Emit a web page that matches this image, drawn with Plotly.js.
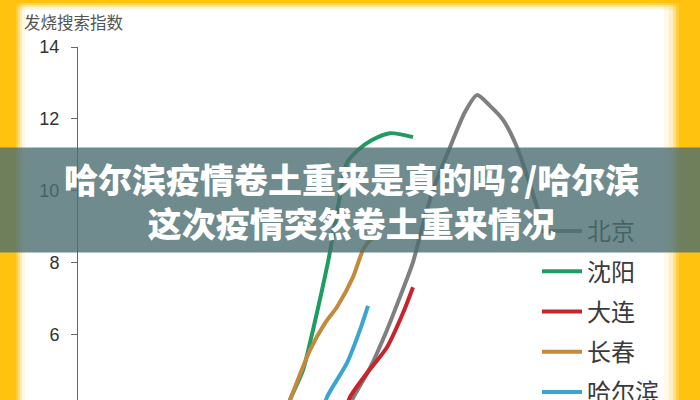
<!DOCTYPE html>
<html><head><meta charset="utf-8">
<script src="https://cdn.plot.ly/plotly-3.0.1.min.js"></script>
<style>html,body{margin:0;padding:0;overflow:hidden;background:#fff;width:700px;height:400px}#chart{width:700px;height:410px}</style>
</head><body><div id="chart"></div><script>
// data (x: day index, y: 发烧搜索指数)
const cities = ['北京','沈阳','大连','长春','哈尔滨'];
const lineColors = ['#7f7f7f','#1f9c62','#c8242b','#c28a3c','#3aa5cf'];
const beijingX = [26.9,27.4,29.2,30.9,32.2,33.5,34.3,35.5,37.2,38.7,39.9,41.2,42.5,43.9,45.2,46.0];
const beijingY = [3.83,4.17,5.06,6.12,7.04,8.01,8.85,10.02,11.21,12.19,12.66,12.36,11.97,11.21,10.16,9.46];
const shenyangX = [20.7,21.2,22.5,23.5,24.4,25.0,25.6,26.2,26.9,28.0,29.4,31.2,33.5];
const shenyangY = [3.75,4.17,5.00,6.12,7.23,8.01,8.90,9.88,10.77,11.13,11.41,11.60,11.49];
const dalianX = [26.7,27.2,28.9,30.9,32.5,33.5];
const dalianY = [3.85,4.25,4.92,5.64,6.59,7.31];
const changchunX = [20.6,21.2,23.2,24.7,25.9,27.5,28.5,29.2,30.0];
const changchunY = [3.75,4.17,5.56,6.31,6.76,7.59,8.35,8.62,8.74];
const harbinX = [24.5,24.9,26.9,28.2,29.0];
const harbinY = [3.85,4.25,5.20,6.12,6.79];
const yTicks = [4,6,8,10,12,14];
const yAxisLabel = '发烧搜索指数';
const titleLines = ['哈尔滨疫情卷土重来是真的吗?/哈尔滨','这次疫情突然卷土重来情况'];

const xs = [beijingX, shenyangX, dalianX, changchunX, harbinX];
const ys = [beijingY, shenyangY, dalianY, changchunY, harbinY];

const traces = cities.map((c,i)=>({
  type:'scatter', mode:'lines', name:c, x:xs[i], y:ys[i], legendgroup:c,
  line:{color:lineColors[i], width:4, shape:'spline', smoothing:0.7},
  hoverinfo:'skip'
}));

// pixel helpers for paper coords (plot area: x 78..700, y 47..410)
const px = v => (v-78)/622;
const py = v => (410-v)/363;

const Y = '#ffc20e';
const shapes = [];
function band(x0,x1,y0,y1,op){shapes.push({type:'rect',xref:'paper',yref:'paper',x0:px(x0),x1:px(x1),y0:py(y0),y1:py(y1),fillcolor:Y,opacity:op,line:{width:0},layer:'above'});}
band(0,16,0,410,1);
[[16,18,0.8],[18,20,0.55],[20,22,0.3],[22,25,0.12]].forEach(a=>band(a[0],a[1],0,410,a[2]));
band(0,700,0,3,1);
[[3,5,0.7],[5,7,0.4],[7,10,0.15]].forEach(a=>band(0,700,a[0],a[1],a[2]));
band(679,700,0,410,1);
[[676,679,0.8],[673,676,0.5],[669,673,0.25],[664,669,0.1]].forEach(a=>band(a[0],a[1],0,410,a[2]));

const titleFont = {family:'Noto Sans CJK SC', size:34, color:'#ffffff', weight:900};
const layout = {
  width:700, height:410,
  margin:{l:78,r:0,t:47,b:0,autoexpand:false},
  paper_bgcolor:'#ffffff', plot_bgcolor:'rgba(0,0,0,0)',
  showlegend:true,
  legend:{x:px(537), y:py(209), xanchor:'left', yanchor:'top', bgcolor:'rgba(0,0,0,0)',
    font:{family:'Noto Sans CJK SC', size:24, color:'#3a3a3a'}, tracegroupgap:6, itemwidth:40, traceorder:'grouped'},
  xaxis:{range:[0,62.2], visible:false, fixedrange:true},
  yaxis:{range:[3.89,14], tickvals:yTicks, ticks:'outside', ticklen:6, tickcolor:'#666',
    showline:true, linecolor:'#666', linewidth:1, showgrid:false, zeroline:false, automargin:false,
    tickfont:{family:'Liberation Sans, Arial', size:18, color:'#333'}, ticklabelstandoff:8, fixedrange:true},
  shapes:shapes,
  annotations:[
    {xref:'paper',yref:'paper',x:px(22),y:py(22),xanchor:'left',yanchor:'middle',showarrow:false,
     text:yAxisLabel, font:{family:'Noto Sans CJK SC', size:16.5, color:'#555'}},
    {xref:'paper',yref:'paper',x:px(350),y:py(200),xanchor:'center',yanchor:'middle',showarrow:false,
     width:700,height:104,borderpad:0,bgcolor:'rgba(75,110,112,0.8)',text:''},
    {xref:'paper',yref:'paper',x:px(351),y:py(201),xanchor:'center',yanchor:'middle',showarrow:false,
     align:'center', text:titleLines.join('<br>'), font:titleFont}
  ]
};
Plotly.newPlot('chart', traces, layout, {staticPlot:true, displayModeBar:false});
</script></body></html>
